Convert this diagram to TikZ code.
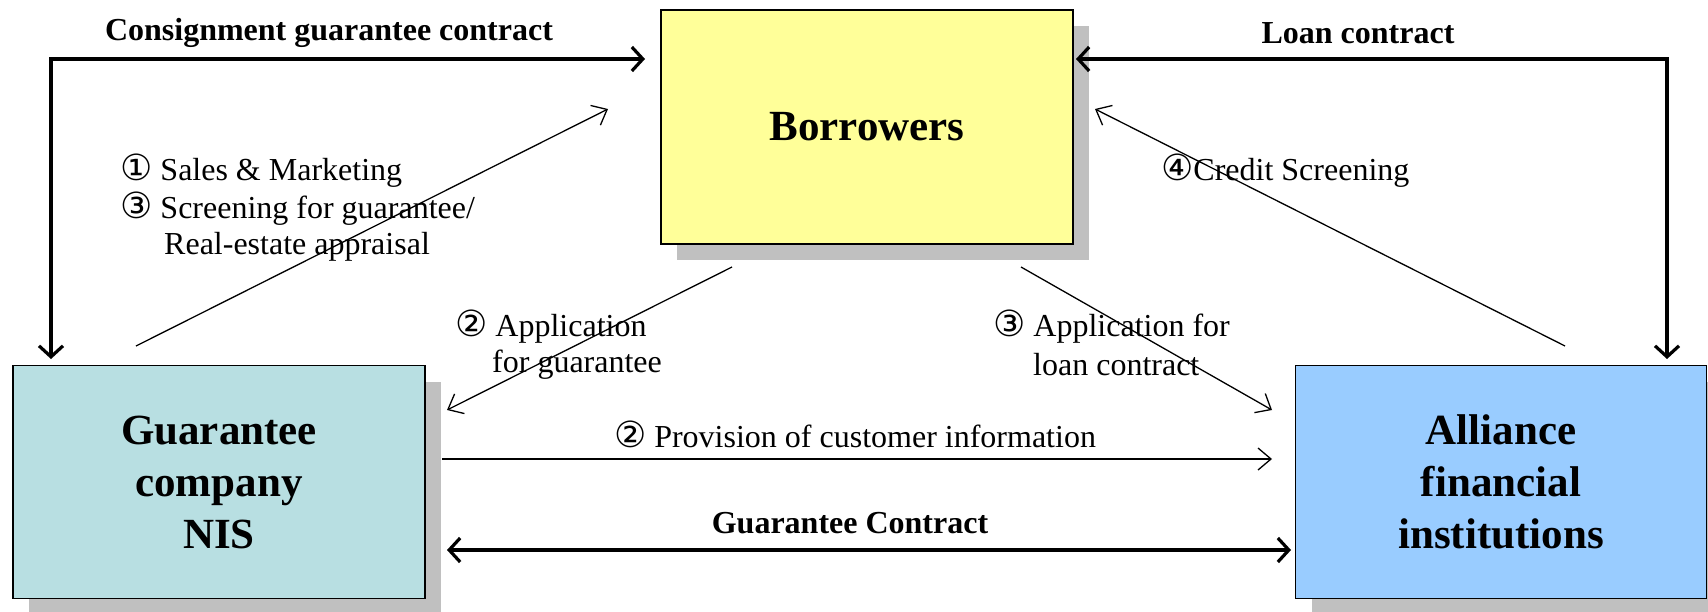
\documentclass[tikz,border=0pt]{standalone}
\usepackage{fontspec}
\setmainfont{Liberation Serif}
\newfontfamily\circfont{DejaVu Sans}
\usetikzlibrary{arrows.meta,shadows}
\definecolor{yellowc}{HTML}{FFFF99}
\definecolor{tealc}{HTML}{B8DFE2}
\definecolor{bluec}{HTML}{99CCFF}
\definecolor{shadowc}{HTML}{C0C0C0}
\newcommand{\cnum}[1]{{\circfont\fontsize{36}{36}\selectfont #1}}
\tikzset{
  box/.style={draw=black, line width=1.5pt, inner sep=0pt, align=center,
    font=\fontsize{43}{52}\selectfont\bfseries,
    drop shadow={shadow xshift=16pt, shadow yshift=-16pt, fill=shadowc, opacity=1}},
  lbl/.style={inner sep=0pt, anchor=west, font=\fontsize{32}{36}\selectfont},
  blbl/.style={inner sep=0pt, font=\fontsize{32}{36}\selectfont\bfseries},
  thinarrow/.style={line width=1.3pt, -{Straight Barb[length=13pt,width=22pt]}},
  thickline/.style={line width=3.2pt, {Straight Barb[length=11pt,width=24pt]}-{Straight Barb[length=11pt,width=24pt]}}
}
\begin{document}
\begin{tikzpicture}[x=1pt,y=-1pt]
\useasboundingbox (0,0) rectangle (1708,611);
\fill[white] (0,0) rectangle (1708,611);

% boxes
\node[box, fill=yellowc, minimum width=412pt, minimum height=234pt] (bor) at (867,127) {Borrowers};
\node[box, fill=tealc, minimum width=412pt, minimum height=233pt] (gua) at (219,482) {Guarantee\\company\\NIS};
\node[box, fill=bluec, minimum width=411pt, minimum height=233pt] (ali) at (1501,482) {Alliance\\financial\\institutions};

% connector end points
\coordinate (cgA) at (51,359);
\coordinate (cgB) at (645,59);
\coordinate (lnA) at (1076,59);
\coordinate (lnB) at (1667,359);
\coordinate (d1s) at (136,346);
\coordinate (d1e) at (608,109);
\coordinate (d2s) at (732,267);
\coordinate (d2e) at (447,410);
\coordinate (d3s) at (1021,267);
\coordinate (d3e) at (1272,410);
\coordinate (d4s) at (1565,346);
\coordinate (d4e) at (1095,109);
\coordinate (pvs) at (442,459);
\coordinate (pve) at (1272,459);
\coordinate (gcs) at (447,550);
\coordinate (gce) at (1291,550);

% thick contract connectors
\draw[thickline] (cgA) |- (cgB);
\draw[thickline] (lnA) -| (lnB);
\draw[thickline] (gcs) -- (gce);

% thin arrows
\draw[thinarrow] (d1s) -- (d1e);
\draw[thinarrow] (d2s) -- (d2e);
\draw[thinarrow] (d3s) -- (d3e);
\draw[thinarrow] (d4s) -- (d4e);
\draw[thinarrow] (pvs) -- (pve);

% labels
\node[blbl] (lcg) at (329,33) {Consignment guarantee contract};
\node[blbl] (lln) at (1358,33) {Loan contract};
\node[blbl] (lgc) at (850,523) {Guarantee Contract};
\node[lbl] (l1) at (120,171) {\cnum{①} Sales \& Marketing};
\node[lbl] (l2) at (120,209) {\cnum{③} Screening for guarantee/};
\node[lbl] (l3) at (164,247) {Real-estate appraisal};
\node[lbl] (l4) at (455,327) {\cnum{②} Application};
\node[lbl] (l5) at (492,365) {for guarantee};
\node[lbl] (l6) at (993,327) {\cnum{③} Application for};
\node[lbl] (l7) at (1033,365) {loan contract};
\node[lbl] (l8) at (1161,171) {\cnum{④}Credit Screening};
\node[inner sep=0pt, font=\fontsize{32}{36}\selectfont] (l9) at (855,434) {\cnum{②} Provision of customer information};
\end{tikzpicture}
\end{document}
